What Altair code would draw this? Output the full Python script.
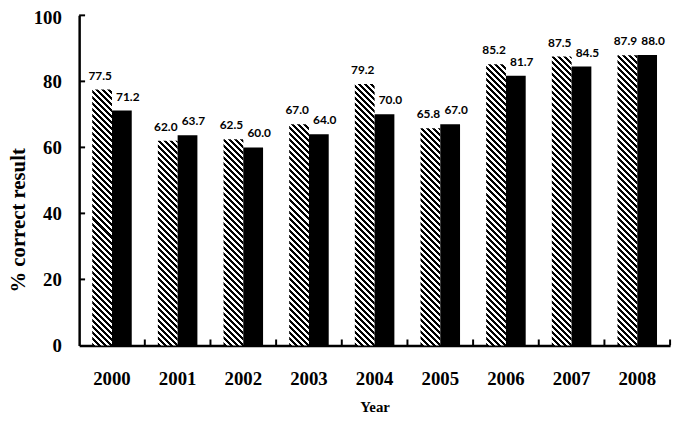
import math
import altair as alt
import pandas as pd

years = ["2000", "2001", "2002", "2003", "2004", "2005", "2006", "2007", "2008"]
hatched_vals = [77.5, 62.0, 62.5, 67.0, 79.2, 65.8, 85.2, 87.5, 87.9]
solid_vals = [71.2, 63.7, 60.0, 64.0, 70.0, 67.0, 81.7, 84.5, 88.0]
y_tick_vals = [20, 40, 60, 80, 100]

W = 598
H = 334
BAR = 20
PERIOD = 4.3      # perpendicular stripe period in px
BLACK_FRAC = 0.5
SERIF = "Liberation Serif"

df = pd.DataFrame({"Year": years, "A": hatched_vals, "B": solid_vals})
ticks_df = pd.DataFrame({"v": y_tick_vals})


def hatch(v):
    h = v / 100.0 * H
    w = float(BAR)
    d = w * w + h * h
    x2 = w * (w + h) / d
    y2 = w * (w - h) / d
    span = (w + h) / math.sqrt(2)
    n = span / PERIOD
    stops = []
    i = 0
    while i < n:
        a = i / n
        b = min((i + BLACK_FRAC) / n, 1.0)
        c = min((i + 1) / n, 1.0)
        stops += [(a, "black"), (b, "black"), (b, "white"), (c, "white")]
        i += 1
    return alt.LinearGradient(
        gradient="linear", x1=0, y1=1, x2=x2, y2=y2,
        stops=[alt.GradientStop(offset=o, color=col) for o, col in stops],
    )


x_axis = alt.Axis(
    title="Year", labelAngle=0, ticks=False, tickSize=0,
    labelFont=SERIF, labelFontWeight="bold", labelFontSize=19, labelColor="black",
    labelPadding=25, domainColor="black", domainWidth=2.5,
    titleFont=SERIF, titleFontWeight="bold", titleFontSize=15, titleColor="black",
    titlePadding=11,
)
x_scale = alt.Scale(paddingInner=0, paddingOuter=0)
y_axis = alt.Axis(
    title="% correct result", values=[0, 20, 40, 60, 80, 100], ticks=False, tickSize=0,
    labelFont=SERIF, labelFontWeight="bold", labelFontSize=19, labelColor="black",
    labelPadding=18, domainColor="black", domainWidth=2.5,
    labelOffset={"condition": {"test": "datum.value == 100", "value": 2}, "value": 0},
    titleFont=SERIF, titleFontWeight="bold", titleFontSize=21, titleColor="black",
    titleAngle=270, titleX=-61, titleY=207, titleAlign="center", titleBaseline="middle",
)
y_scale = alt.Scale(domain=[0, 100])


def X(**kw):
    return alt.X("Year:N", scale=x_scale, axis=x_axis, **kw)


def Y(field):
    return alt.Y(field, scale=y_scale, axis=y_axis)


base = alt.Chart(df)
layers = []
for yr, v in zip(years, hatched_vals):
    layers.append(
        base.transform_filter(alt.datum.Year == yr)
        .mark_bar(size=BAR, xOffset=-BAR / 2, fill=hatch(v))
        .encode(x=X(), y=Y("A:Q"))
    )

solid = base.mark_bar(size=BAR, xOffset=BAR / 2, color="black").encode(x=X(), y=Y("B:Q"))

lab_font = dict(font="Lato", fontWeight="bold", fontSize=12, color="black", baseline="alphabetic")
text_a = base.mark_text(dx=-12, dy=-10, **lab_font).encode(
    x=X(), y=Y("A:Q"), text=alt.Text("A:Q", format=".1f"))
text_b = base.mark_text(dx=16, dy=-10, **lab_font).encode(
    x=X(), y=Y("B:Q"), text=alt.Text("B:Q", format=".1f"))

ytick = alt.Chart(ticks_df).mark_rule(color="black", strokeWidth=2).encode(
    y=Y("v:Q"), x=alt.value(0), x2=alt.value(6))
xtick = base.mark_rule(color="black", strokeWidth=2).encode(
    x=X(bandPosition=1), y=alt.value(H), y2=alt.value(H - 6))

chart = alt.layer(*layers, solid, text_a, text_b, ytick, xtick).properties(
    width=W, height=H,
    padding={"left": 72, "top": 5, "right": 7, "bottom": 70},
    autosize=alt.AutoSizeParams(type="none"),
).configure_view(stroke=None).configure_axis(grid=False)

chart.save("out.html", embed_options={"renderer": "svg", "actions": False})
